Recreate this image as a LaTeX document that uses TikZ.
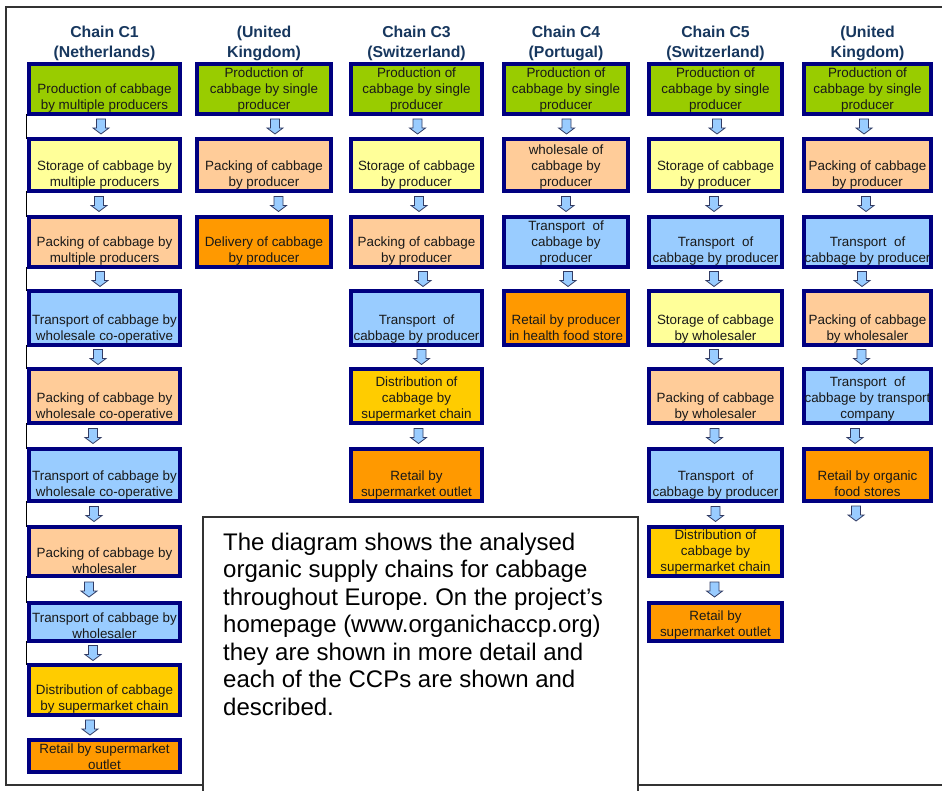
\documentclass[tikz,border=0pt]{standalone}
\usepackage{fontspec}
\setmainfont{Liberation Sans}
\frenchspacing

\definecolor{boxline}{RGB}{0,0,128}
\definecolor{prodgreen}{RGB}{153,204,0}
\definecolor{storeyellow}{RGB}{255,255,153}
\definecolor{packpeach}{RGB}{255,204,153}
\definecolor{transblue}{RGB}{153,204,255}
\definecolor{retailorange}{RGB}{255,153,0}
\definecolor{distgold}{RGB}{255,204,0}
\definecolor{headblue}{RGB}{23,55,94}
\definecolor{arrowline}{RGB}{50,60,100}

\begin{document}
\begin{tikzpicture}[x=1pt,y=-1pt]
	\def \colone{104.5}
	\def \coltwo{264}
	\def \colthree{416.5}
	\def \colfour{566}
	\def \colfive{715.5}
	\def \colsix{867.5}
	\def \rowone{89}
	\def \rowtwo{165}
	\def \rowthree{242}
	\def \rowfour{318}
	\def \rowfive{396}
	\def \rowsix{475}
	\def \rowseven{551.5}
	\def \roweight{622}
	\def \rownine{690}
	\def \rowten{756}
	\tikzstyle{box}=[rectangle,draw=boxline,line width=4pt,inner sep=0pt,outer sep=0pt]
	\tikzstyle{colA}=[minimum width=151pt]
	\tikzstyle{colB}=[minimum width=134pt]
	\tikzstyle{colC}=[minimum width=131pt]
	\tikzstyle{colD}=[minimum width=124pt]
	\tikzstyle{colE}=[minimum width=133pt]
	\tikzstyle{colF}=[minimum width=127pt]
	\tikzstyle{rowA}=[minimum height=50pt]
	\tikzstyle{rowB}=[minimum height=52pt]
	\tikzstyle{rowC}=[minimum height=50pt]
	\tikzstyle{rowD}=[minimum height=54pt]
	\tikzstyle{rowE}=[minimum height=54pt]
	\tikzstyle{rowF}=[minimum height=52pt]
	\tikzstyle{rowG}=[minimum height=49pt]
	\tikzstyle{rowH}=[minimum height=38pt]
	\tikzstyle{rowI}=[minimum height=50pt]
	\tikzstyle{rowJ}=[minimum height=32pt]
	\tikzstyle{steptext}=[anchor=south,align=center,inner sep=0pt,yshift=2pt,text=black!90,font=\fontsize{13.4}{16}\selectfont]
	\tikzstyle{flat}=[yshift=2.5pt]
	\tikzstyle{chainhead}=[anchor=north,align=center,inner sep=0pt,text=headblue,font=\bfseries\fontsize{15.8}{20.3}\selectfont]
	\tikzstyle{darrow}=[rectangle,inner sep=0pt,minimum width=19pt,minimum height=18pt,
		path picture={\draw[draw=arrowline,fill=transblue,line width=0.8pt,shift={(path picture bounding box.center)}]
			(-4.5,-7.5) -- (4.5,-7.5) -- (4.5,1.5) -- (8,1.5) -- (0,7.5) -- (-8,1.5) -- (-4.5,1.5) -- cycle;}]
	\tikzstyle{link}=[draw=none]
	\tikzstyle{tick}=[draw=black,line width=1.5pt]
	\tikzstyle{notebox}=[rectangle,draw=black!80,line width=1.5pt,fill=white,inner sep=0pt,outer sep=0pt,minimum width=435pt,minimum height=283pt]
	\tikzstyle{notetext}=[anchor=north west,align=left,inner sep=0pt,text=black,font=\fontsize{24}{27.5}\selectfont]

	\useasboundingbox (0,0) rectangle (942,791);
	% frame
	\draw[line width=2pt,draw=black!80] (6,7) rectangle (950,785);

	% note
	\node[notebox]	(note)	at (420.5,658.5)	{};
	\node[notetext]	(note-t)	at ([xshift=20pt,yshift=-15.5pt]note.north west)	{The diagram shows the analysed\\organic supply chains for cabbage\\throughout Europe. On the project’s\\homepage (www.organichaccp.org)\\they are shown in more detail and\\each of the CCPs are shown and\\described.};

	% headings
	\node[chainhead]	(head1)	at (\colone,25.8)	{Chain C1\\(Netherlands)};
	\node[chainhead]	(head2)	at (\coltwo,25.8)	{(United\\Kingdom)};
	\node[chainhead]	(head3)	at (\colthree,25.8)	{Chain C3\\(Switzerland)};
	\node[chainhead]	(head4)	at (\colfour,25.8)	{Chain C4\\(Portugal)};
	\node[chainhead]	(head5)	at (\colfive,25.8)	{Chain C5\\(Switzerland)};
	\node[chainhead]	(head6)	at (\colsix,25.8)	{(United\\Kingdom)};

	% chain C1
	\node[box,colA,rowA,fill=prodgreen]	(c1a)	at (\colone,\rowone)	{};
	\node[box,colA,rowB,fill=storeyellow]	(c1b)	at (\colone,\rowtwo)	{};
	\node[box,colA,rowC,fill=packpeach]	(c1c)	at (\colone,\rowthree)	{};
	\node[box,colA,rowD,fill=transblue]	(c1d)	at (\colone,\rowfour)	{};
	\node[box,colA,rowE,fill=packpeach]	(c1e)	at (\colone,\rowfive)	{};
	\node[box,colA,rowF,fill=transblue]	(c1f)	at (\colone,\rowsix)	{};
	\node[box,colA,rowG,fill=packpeach]	(c1g)	at (\colone,\rowseven)	{};
	\node[box,colA,rowH,fill=transblue]	(c1h)	at (\colone,\roweight)	{};
	\node[box,colA,rowI,fill=distgold]	(c1i)	at (\colone,\rownine)	{};
	\node[box,colA,rowJ,fill=retailorange]	(c1j)	at (\colone,\rowten)	{};
	\node[steptext]	(c1a-t)	at (c1a.south)	{Production of cabbage\\by multiple producers};
	\node[steptext]	(c1b-t)	at (c1b.south)	{Storage of cabbage by\\multiple producers};
	\node[steptext]	(c1c-t)	at (c1c.south)	{Packing of cabbage by\\multiple producers};
	\node[steptext]	(c1d-t)	at (c1d.south)	{Transport of cabbage by\\wholesale co-operative};
	\node[steptext]	(c1e-t)	at (c1e.south)	{Packing of cabbage by\\wholesale co-operative};
	\node[steptext]	(c1f-t)	at (c1f.south)	{Transport of cabbage by\\wholesale co-operative};
	\node[steptext]	(c1g-t)	at (c1g.south)	{Packing of cabbage by\\wholesaler};
	\node[steptext]	(c1h-t)	at (c1h.south)	{Transport of cabbage by\\wholesaler};
	\node[steptext]	(c1i-t)	at (c1i.south)	{Distribution of cabbage\\by supermarket chain};
	\node[steptext]	(c1j-t)	at (c1j.south)	{Retail by supermarket\\outlet};

	% chain C2
	\node[box,colB,rowA,fill=prodgreen]	(c2a)	at (\coltwo,\rowone)	{};
	\node[box,colB,rowB,fill=packpeach]	(c2b)	at (\coltwo,\rowtwo)	{};
	\node[box,colB,rowC,fill=retailorange]	(c2c)	at (\coltwo,\rowthree)	{};
	\node[steptext]	(c2a-t)	at (c2a.south)	{Production of\\cabbage by single\\producer};
	\node[steptext]	(c2b-t)	at (c2b.south)	{Packing of cabbage\\by producer};
	\node[steptext]	(c2c-t)	at (c2c.south)	{Delivery of cabbage\\by producer};

	% chain C3
	\node[box,colC,rowA,fill=prodgreen]	(c3a)	at (\colthree,\rowone)	{};
	\node[box,colC,rowB,fill=storeyellow]	(c3b)	at (\colthree,\rowtwo)	{};
	\node[box,colC,rowC,fill=packpeach]	(c3c)	at (\colthree,\rowthree)	{};
	\node[box,colC,rowD,fill=transblue]	(c3d)	at (\colthree,\rowfour)	{};
	\node[box,colC,rowE,fill=distgold]	(c3e)	at (\colthree,\rowfive)	{};
	\node[box,colC,rowF,fill=retailorange]	(c3f)	at (\colthree,\rowsix)	{};
	\node[steptext]	(c3a-t)	at (c3a.south)	{Production of\\cabbage by single\\producer};
	\node[steptext]	(c3b-t)	at (c3b.south)	{Storage of cabbage\\by producer};
	\node[steptext]	(c3c-t)	at (c3c.south)	{Packing of cabbage\\by producer};
	\node[steptext]	(c3d-t)	at (c3d.south)	{Transport\ \ of\\cabbage by producer};
	\node[steptext]	(c3e-t)	at (c3e.south)	{Distribution of\\cabbage by\\supermarket chain};
	\node[steptext]	(c3f-t)	at (c3f.south)	{Retail by\\supermarket outlet};

	% chain C4
	\node[box,colD,rowA,fill=prodgreen]	(c4a)	at (\colfour,\rowone)	{};
	\node[box,colD,rowB,fill=packpeach]	(c4b)	at (\colfour,\rowtwo)	{};
	\node[box,colD,rowC,fill=transblue]	(c4c)	at (\colfour,\rowthree)	{};
	\node[box,colD,rowD,fill=retailorange]	(c4d)	at (\colfour,\rowfour)	{};
	\node[steptext]	(c4a-t)	at (c4a.south)	{Production of\\cabbage by single\\producer};
	\node[steptext]	(c4b-t)	at (c4b.south)	{wholesale of\\cabbage by\\producer};
	\node[steptext]	(c4c-t)	at (c4c.south)	{Transport\ \ of\\cabbage by\\producer};
	\node[steptext,flat]	(c4d-t)	at (c4d.south)	{Retail by producer\\in health food store};

	% chain C5
	\node[box,colE,rowA,fill=prodgreen]	(c5a)	at (\colfive,\rowone)	{};
	\node[box,colE,rowB,fill=storeyellow]	(c5b)	at (\colfive,\rowtwo)	{};
	\node[box,colE,rowC,fill=transblue]	(c5c)	at (\colfive,\rowthree)	{};
	\node[box,colE,rowD,fill=storeyellow]	(c5d)	at (\colfive,\rowfour)	{};
	\node[box,colE,rowE,fill=packpeach]	(c5e)	at (\colfive,\rowfive)	{};
	\node[box,colE,rowF,fill=transblue]	(c5f)	at (\colfive,\rowsix)	{};
	\node[box,colE,rowG,fill=distgold]	(c5g)	at (\colfive,\rowseven)	{};
	\node[box,colE,rowH,fill=retailorange]	(c5h)	at (\colfive,\roweight)	{};
	\node[steptext]	(c5a-t)	at (c5a.south)	{Production of\\cabbage by single\\producer};
	\node[steptext]	(c5b-t)	at (c5b.south)	{Storage of cabbage\\by producer};
	\node[steptext]	(c5c-t)	at (c5c.south)	{Transport\ \ of\\cabbage by producer};
	\node[steptext]	(c5d-t)	at (c5d.south)	{Storage of cabbage\\by wholesaler};
	\node[steptext]	(c5e-t)	at (c5e.south)	{Packing of cabbage\\by wholesaler};
	\node[steptext]	(c5f-t)	at (c5f.south)	{Transport\ \ of\\cabbage by producer};
	\node[steptext]	(c5g-t)	at (c5g.south)	{Distribution of\\cabbage by\\supermarket chain};
	\node[steptext]	(c5h-t)	at (c5h.south)	{Retail by\\supermarket outlet};

	% chain C6
	\node[box,colF,rowA,fill=prodgreen]	(c6a)	at (\colsix,\rowone)	{};
	\node[box,colF,rowB,fill=packpeach]	(c6b)	at (\colsix,\rowtwo)	{};
	\node[box,colF,rowC,fill=transblue]	(c6c)	at (\colsix,\rowthree)	{};
	\node[box,colF,rowD,fill=packpeach]	(c6d)	at (\colsix,\rowfour)	{};
	\node[box,colF,rowE,fill=transblue]	(c6e)	at (\colsix,\rowfive)	{};
	\node[box,colF,rowF,fill=retailorange]	(c6f)	at (\colsix,\rowsix)	{};
	\node[steptext]	(c6a-t)	at (c6a.south)	{Production of\\cabbage by single\\producer};
	\node[steptext]	(c6b-t)	at (c6b.south)	{Packing of cabbage\\by producer};
	\node[steptext]	(c6c-t)	at (c6c.south)	{Transport\ \ of\\cabbage by producer};
	\node[steptext]	(c6d-t)	at (c6d.south)	{Packing of cabbage\\by wholesaler};
	\node[steptext]	(c6e-t)	at (c6e.south)	{Transport\ \ of\\cabbage by transport\\company};
	\node[steptext,flat]	(c6f-t)	at (c6f.south)	{Retail by organic\\food stores};
	\coordinate	(c6end)	at ([yshift=-25pt]c6f.south);

	% arrows
	\path
		(c1a)	edge[link]	node[darrow,xshift=-3.5pt]	(c1ab)	{}	(c1b)
		(c1b)	edge[link]	node[darrow,xshift=-5.5pt]	(c1bc)	{}	(c1c)
		(c1c)	edge[link]	node[darrow,xshift=-4.5pt]	(c1cd)	{}	(c1d)
		(c1d)	edge[link]	node[darrow,xshift=-6.5pt]	(c1de)	{}	(c1e)
		(c1e)	edge[link]	node[darrow,xshift=-11.5pt]	(c1ef)	{}	(c1f)
		(c1f)	edge[link]	node[darrow,xshift=-10.5pt]	(c1fg)	{}	(c1g)
		(c1g)	edge[link]	node[darrow,xshift=-15.5pt]	(c1gh)	{}	(c1h)
		(c1h)	edge[link]	node[darrow,xshift=-11.5pt]	(c1hi)	{}	(c1i)
		(c1i)	edge[link]	node[darrow,xshift=-14.5pt]	(c1ij)	{}	(c1j)

		(c2a)	edge[link]	node[darrow,xshift=11pt]	(c2ab)	{}	(c2b)
		(c2b)	edge[link]	node[darrow,xshift=14.5pt]	(c2bc)	{}	(c2c)

		(c3a)	edge[link]	node[darrow,xshift=1pt]	(c3ab)	{}	(c3b)
		(c3b)	edge[link]	node[darrow,xshift=2.5pt]	(c3bc)	{}	(c3c)
		(c3c)	edge[link]	node[darrow,xshift=6.5pt]	(c3cd)	{}	(c3d)
		(c3d)	edge[link]	node[darrow,xshift=5pt]	(c3de)	{}	(c3e)
		(c3e)	edge[link]	node[darrow,xshift=2pt]	(c3ef)	{}	(c3f)

		(c4a)	edge[link]	node[darrow,xshift=0.5pt]	(c4ab)	{}	(c4b)
		(c4b)	edge[link]	node[darrow]	(c4bc)	{}	(c4c)
		(c4c)	edge[link]	node[darrow,xshift=2pt]	(c4cd)	{}	(c4d)

		(c5a)	edge[link]	node[darrow,xshift=1.5pt]	(c5ab)	{}	(c5b)
		(c5b)	edge[link]	node[darrow,xshift=-1.5pt]	(c5bc)	{}	(c5c)
		(c5c)	edge[link]	node[darrow,xshift=-1.5pt]	(c5cd)	{}	(c5d)
		(c5d)	edge[link]	node[darrow,xshift=-1.5pt]	(c5de)	{}	(c5e)
		(c5e)	edge[link]	node[darrow,xshift=-1pt]	(c5ef)	{}	(c5f)
		(c5f)	edge[link]	node[darrow]	(c5fg)	{}	(c5g)
		(c5g)	edge[link]	node[darrow,xshift=-1pt]	(c5gh)	{}	(c5h)

		(c6a)	edge[link]	node[darrow,xshift=-3.5pt]	(c6ab)	{}	(c6b)
		(c6b)	edge[link]	node[darrow,xshift=-1.5pt]	(c6bc)	{}	(c6c)
		(c6c)	edge[link]	node[darrow,xshift=-5.5pt]	(c6cd)	{}	(c6d)
		(c6d)	edge[link]	node[darrow,xshift=-6pt]	(c6de)	{}	(c6e)
		(c6e)	edge[link]	node[darrow,xshift=-12.5pt]	(c6ef)	{}	(c6f)
		(c6f)	edge[link]	node[darrow,xshift=-11.5pt]	(c6fz)	{}	(c6end);

	% marks left of chain C1
	\draw[tick] ([xshift=-2.5pt]c1a.south west) -- ([xshift=-2.5pt]c1b.north west);
	\draw[tick] ([xshift=-2.5pt]c1b.south west) -- ([xshift=-2.5pt]c1c.north west);
	\draw[tick] ([xshift=-2.5pt]c1c.south west) -- ([xshift=-2.5pt]c1d.north west);
	\draw[tick] ([xshift=-2.5pt]c1d.south west) -- ([xshift=-2.5pt]c1e.north west);
	\draw[tick] ([xshift=-2.5pt]c1e.south west) -- ([xshift=-2.5pt]c1f.north west);
	\draw[tick] ([xshift=-2.5pt]c1f.south west) -- ([xshift=-2.5pt]c1g.north west);
	\draw[tick] ([xshift=-2.5pt]c1g.south west) -- ([xshift=-2.5pt]c1h.north west);
	\draw[tick] ([xshift=-2.5pt]c1h.south west) -- ([xshift=-2.5pt]c1i.north west);
\end{tikzpicture}
\end{document}
